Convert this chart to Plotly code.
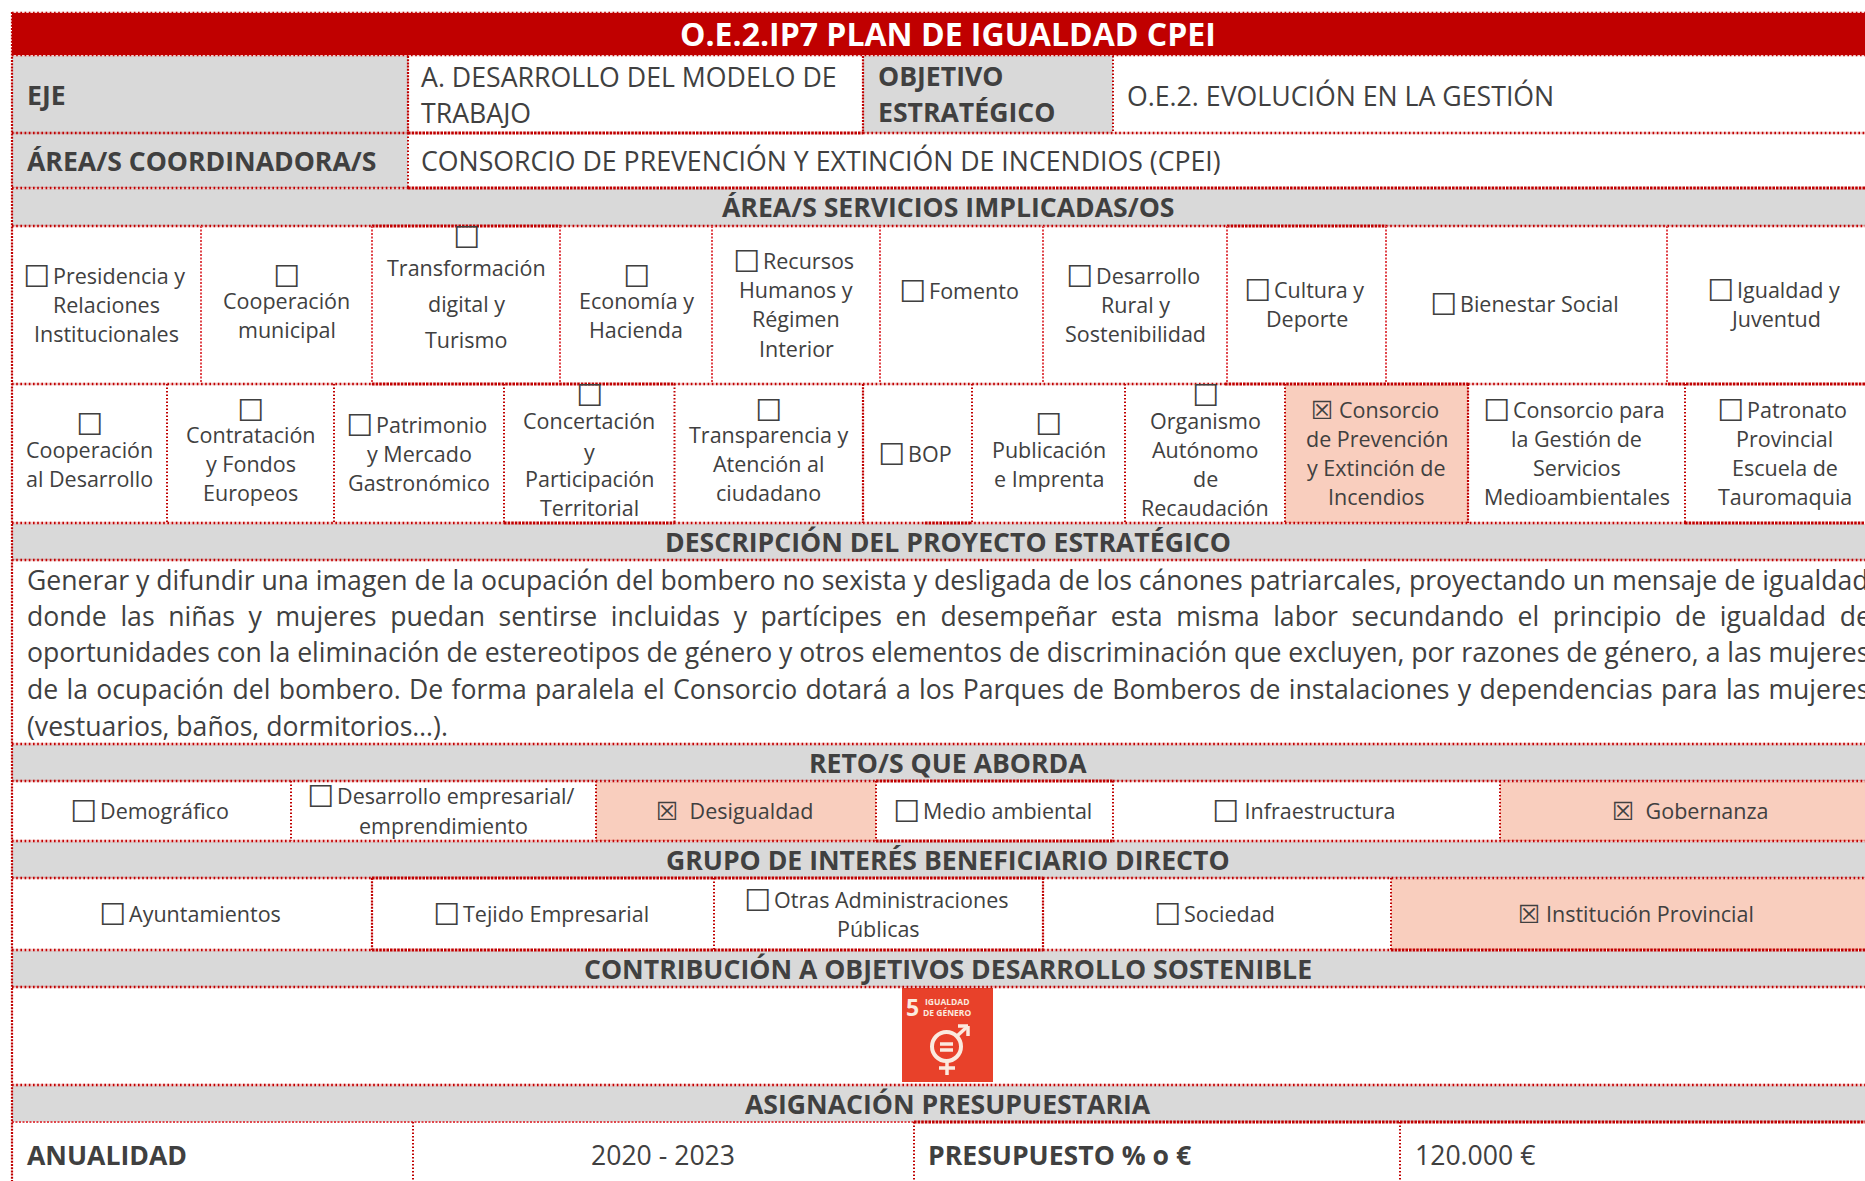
import plotly.graph_objects as go

W, H = 1865, 1181
RIGHT = 1884
RED = "#C00000"; GREY = "#D9D9D9"; PINK = "#F9CEBE"; INK = "#404040"; SDG = "#E8412A"; CREAM = "#FBEADF"

TITLE = "O.E.2.IP7 PLAN DE IGUALDAD CPEI"
HEADERS = ["ÁREA/S SERVICIOS IMPLICADAS/OS", "DESCRIPCIÓN DEL PROYECTO ESTRATÉGICO", "RETO/S QUE ABORDA",
           "GRUPO DE INTERÉS BENEFICIARIO DIRECTO", "CONTRIBUCIÓN A OBJETIVOS DESARROLLO SOSTENIBLE", "ASIGNACIÓN PRESUPUESTARIA"]
HEADER_Y = [207, 542, 763, 860, 969, 1104]

SERV1 = [["☐Presidencia y", "Relaciones", "Institucionales"], ["☐", "Cooperación", "municipal"],
         ["☐", "Transformación", "digital y", "Turismo"], ["☐", "Economía y", "Hacienda"],
         ["☐Recursos", "Humanos y", "Régimen", "Interior"], ["☐Fomento"],
         ["☐Desarrollo", "Rural y", "Sostenibilidad"], ["☐Cultura y", "Deporte"],
         ["☐Bienestar Social"], ["☐Igualdad y", "Juventud"]]
SERV1_Y = [[277, 306, 335], [276, 302, 331], [237, 269, 305, 341], [276, 302, 331], [262, 291, 320, 350], [292],
           [277, 306, 335], [291, 320], [305], [291, 320]]
SERV1_X = [12, 201, 372, 560, 712, 880, 1043, 1227, 1386, 1667, RIGHT]

SERV2 = [["☐", "Cooperación", "al Desarrollo"], ["☐", "Contratación", "y Fondos", "Europeos"],
         ["☐Patrimonio", "y Mercado", "Gastronómico"], ["☐", "Concertación", "y", "Participación", "Territorial"],
         ["☐", "Transparencia y", "Atención al", "ciudadano"], ["☐BOP"], ["☐", "Publicación", "e Imprenta"],
         ["☐", "Organismo", "Autónomo", "de", "Recaudación"], ["☒ Consorcio", "de Prevención", "y Extinción de", "Incendios"],
         ["☐Consorcio para", "la Gestión de", "Servicios", "Medioambientales"],
         ["☐Patronato", "Provincial", "Escuela de", "Tauromaquia"]]
SERV2_Y = [[424, 451, 480], [410, 436, 465, 494], [426, 455, 484], [395, 422, 453, 480, 509], [410, 436, 465, 494], [455],
           [424, 451, 480], [395, 422, 451, 480, 509], [411, 440, 469, 498], [411, 440, 469, 498], [411, 440, 469, 498]]
SERV2_X = [12, 167, 334, 504, 674.5, 863, 972, 1125, 1285, 1468, 1685, RIGHT]

RETOS = [["☐Demográfico"], ["☐Desarrollo empresarial/", "emprendimiento"], ["☒\u00a0\u00a0Desigualdad"], ["☐Medio ambiental"],
         ["☐\u00a0Infraestructura"], ["☒\u00a0\u00a0Gobernanza"]]
RETOS_Y = [[812], [797, 827], [812], [812], [812], [812]]
RETOS_X = [12, 291, 596, 876, 1113, 1500, RIGHT]

GRUPOS = [["☐Ayuntamientos"], ["☐Tejido Empresarial"], ["☐Otras Administraciones", "Públicas"], ["☐Sociedad"], ["☒ Institución Provincial"]]
GRUPOS_Y = [[915], [915], [901, 930], [915], [915]]
GRUPOS_X = [12, 372, 714, 1043, 1391, RIGHT]

DESCRIPTION = ["Generar y difundir una imagen de la ocupación del bombero no sexista y desligada de los cánones patriarcales, proyectando un mensaje de igualdad",
               "donde las niñas y mujeres puedan sentirse incluidas y partícipes en desempeñar esta misma labor secundando el principio de igualdad de",
               "oportunidades con la eliminación de estereotipos de género y otros elementos de discriminación que excluyen, por razones de género, a las mujeres",
               "de la ocupación del bombero. De forma paralela el Consorcio dotará a los Parques de Bomberos de instalaciones y dependencias para las mujeres",
               "(vestuarios, baños, dormitorios…)."]
DESC_Y = [580, 616, 652, 689, 726]
DESC_WORD_SPACING = [0, 6.7, 0, 1.4, 0]

BODY_SIZE = 26.7; DESC_SIZE = 26.6; HEAD_SIZE = 26.6; LABEL_SIZE = 21.5

shapes, annos = [], []

def rect(x0, y0, x1, y1, fill):
    shapes.append(dict(type="rect", xref="x", yref="y", x0=x0, y0=y0, x1=x1, y1=y1, fillcolor=fill,
                       line=dict(color=fill, width=0), layer="below"))

def seg(x0, y0, x1, y1, kind="n"):
    vertical = x0 == x1
    if vertical:
        style = {"n": (RED, 2, "1.5px,2px"), "d": (RED, 2.2, "2px,1.2px"), "p": ("#E0474C", 2, "2px,1.5px")}[kind]
    else:
        style = {"n": (RED, 2.6, "1.6px,2.6px"), "d": (RED, 2.8, "2.6px,1px"), "p": ("#E0474C", 2.2, "2px,1.5px")}[kind]
    shapes.append(dict(type="line", xref="x", yref="y", x0=x0, y0=y0, x1=x1, y1=y1,
                       line=dict(color=style[0], width=style[1], dash=style[2]), layer="above"))
    if kind == "n" and not vertical:
        shapes.append(dict(type="line", xref="x", yref="y", x0=x0, y0=y0, x1=x1, y1=y1, opacity=0.2,
                           line=dict(color=RED, width=style[1]), layer="above"))

def text(x, y, s, size=BODY_SIZE, bold=False, color=INK, anchor="center", extra=""):
    has_text_after = len(s) > 1 and s[1] not in "\u00a0 "
    gap = '<span style="font-size:12px">\u00a0</span>' if has_text_after else ""
    s = s.replace("☐", '<span style="font-family:DejaVu Sans;font-size:30px;baseline-shift:-3px">☐</span>' + gap)
    s = s.replace("☒", '<span style="font-family:DejaVu Sans;font-size:25px;baseline-shift:-1px">☒</span>')
    if extra:
        s = f'<span style="{extra}">{s}</span>'
    annos.append(dict(xref="x", yref="y", x=x, y=y, text=s, showarrow=False, xanchor=anchor, yanchor="middle",
                      align=anchor, font=dict(family="Open Sans", size=size, color=color, weight=700 if bold else 400)))

# fills
rect(12, 13, RIGHT, 55, RED)
rect(12, 56, 408, 188, GREY)
rect(863, 56, 1113, 133, GREY)
for y0, y1 in [(189, 226), (524, 560), (745, 781), (842, 878), (951, 987), (1086, 1122)]:
    rect(12, y0, RIGHT, y1, GREY)
rect(1285, 385, 1468, 523, PINK)
rect(596, 782, 876, 841, PINK)
rect(1500, 782, RIGHT, 841, PINK)
rect(1391, 879, RIGHT, 950, PINK)

# horizontal rules
HRULES = [(13, [(12, RIGHT, "n")]), (55, [(12, RIGHT, "n")]),
          (133, [(12, 408, "n"), (408, 863, "d"), (863, RIGHT, "n")]),
          (188, [(12, 408, "n"), (408, RIGHT, "d")]),
          (226, [(12, 372, "n"), (372, 560, "d"), (560, 1227, "n"), (1227, 1386, "d"), (1386, RIGHT, "n")]),
          (384, [(12, 372, "n"), (372, 674, "d"), (674, 1225, "n"), (1225, 1468, "d"), (1468, 1668, "n"), (1668, RIGHT, "d")]),
          (523, [(12, 504, "n"), (504, 674, "d"), (674, 925, "n"), (925, 970, "d"), (970, 1685, "n"), (1685, RIGHT, "d")]),
          (560, [(12, RIGHT, "n")]), (744, [(12, RIGHT, "n")]),
          (781, [(12, 876, "n"), (876, 1113, "d"), (1113, RIGHT, "n")]),
          (841, [(12, 876, "n"), (876, 1113, "d"), (1113, RIGHT, "n")]),
          (878, [(12, 372, "n"), (372, 1043, "d"), (1043, RIGHT, "n")]),
          (950, [(12, 372, "n"), (372, 1043, "d"), (1043, 1391, "n"), (1391, RIGHT, "d")]),
          (987, [(12, RIGHT, "n")]), (1085, [(12, RIGHT, "n")]),
          (1122, [(12, 914, "p"), (914, RIGHT, "d")])]
for y, parts in HRULES:
    for x0, x1, k in parts:
        seg(x0, y, x1, y, k)

# vertical rules
seg(12, 12, 12, 1181, "d")
VRULES = [(408, 56, 133, "d"), (408, 133, 188, "n"), (863, 56, 133, "d"), (1113, 56, 133, "n"),
          (372, 226, 383, "p"), (560, 226, 383, "p")]
for x in [201, 712, 880, 1043, 1227, 1386, 1667]:
    VRULES.append((x, 226, 383, "p"))
for x in [167, 334, 504, 674.5, 972, 1125, 1285, 1685]:
    VRULES.append((x, 384, 523, "n"))
for x in [863, 1468]:
    VRULES.append((x, 384, 523, "d"))
for x in [291, 596, 876, 1113, 1500]:
    VRULES.append((x, 781, 841, "n"))
for x in [714, 1391]:
    VRULES.append((x, 878, 950, "n"))
for x in [372, 1043]:
    VRULES.append((x, 878, 950, "d"))
for x in [413, 914, 1400]:
    VRULES.append((x, 1122, 1181, "n"))
for x, y0, y1, k in VRULES:
    seg(x, y0, x, y1, k)

# fixed texts
text(948, 33, TITLE, size=32, bold=True, color="#FFFFFF")
for s, y in zip(HEADERS, HEADER_Y):
    text(948, y, s, size=HEAD_SIZE, bold=True)
LEFT = 24.5
text(LEFT, 95, "EJE", size=HEAD_SIZE, bold=True, anchor="left")
text(LEFT, 161, "ÁREA/S COORDINADORA/S", size=HEAD_SIZE, bold=True, anchor="left")
text(419, 76, "A. DESARROLLO DEL MODELO DE", anchor="left")
text(419, 112, "TRABAJO", anchor="left")
text(876, 76, "OBJETIVO", size=HEAD_SIZE, bold=True, anchor="left")
text(876, 112, "ESTRATÉGICO", size=HEAD_SIZE, bold=True, anchor="left")
text(1125, 95, "O.E.2. EVOLUCIÓN EN LA GESTIÓN", anchor="left")
text(419, 160, "CONSORCIO DE PREVENCIÓN Y EXTINCIÓN DE INCENDIOS (CPEI)", anchor="left")
text(LEFT, 1155, "ANUALIDAD", size=HEAD_SIZE, bold=True, anchor="left")
text(663, 1155, "2020 - 2023", size=HEAD_SIZE)
text(926, 1155, "PRESUPUESTO % o €", size=HEAD_SIZE, bold=True, anchor="left")
text(1413, 1155, "120.000 €", size=HEAD_SIZE, anchor="left")

for line, y, ws in zip(DESCRIPTION, DESC_Y, DESC_WORD_SPACING):
    text(LEFT, y, line, size=DESC_SIZE, anchor="left", extra=f"word-spacing:{ws}px" if ws else "")

for labels, ys, xs in [(SERV1, SERV1_Y, SERV1_X), (SERV2, SERV2_Y, SERV2_X), (RETOS, RETOS_Y, RETOS_X), (GRUPOS, GRUPOS_Y, GRUPOS_X)]:
    for i, (lines, yy) in enumerate(zip(labels, ys)):
        cx = (xs[i] + xs[i + 1]) / 2
        for s, y in zip(lines, yy):
            if s == "☐":
                text(cx, y, s, size=LABEL_SIZE)
            elif s[0] == "☐":
                text(cx - 2.2, y - 1, s, size=LABEL_SIZE)
            elif s[0] == "☒":
                text(cx - 1.2, y - 1, s, size=LABEL_SIZE)
            else:
                text(cx, y - 2, s, size=LABEL_SIZE)

# SDG 5 tile
rect(902, 988, 993, 1082, SDG)
text(912, 1007, "5", size=23, bold=True, color=CREAM)
text(947, 1001, "IGUALDAD", size=8.5, bold=True, color=CREAM)
text(947, 1012, "DE GÉNERO", size=8.5, bold=True, color=CREAM)
icon = dict(xref="x", yref="y", layer="above")
shapes.append(dict(type="circle", x0=932, y0=1032, x1=961, y1=1061, line=dict(color=CREAM, width=4), **icon))
for x0, y0, x1, y1 in [(947, 1061, 947, 1075), (939, 1068, 955, 1068), (957, 1036, 968, 1026), (958, 1026, 968, 1026),
                       (968, 1026, 968, 1036), (940, 1044, 953, 1044), (940, 1050, 953, 1050)]:
    shapes.append(dict(type="line", x0=x0, y0=y0, x1=x1, y1=y1, line=dict(color=CREAM, width=3.5), **icon))

fig = go.Figure()
fig.update_layout(width=W, height=H, margin=dict(l=0, r=0, t=0, b=0), paper_bgcolor="#FFFFFF", plot_bgcolor="#FFFFFF",
                  autosize=False, showlegend=False, shapes=shapes, annotations=annos,
                  xaxis=dict(range=[0, W], visible=False, fixedrange=True),
                  yaxis=dict(range=[H, 0], visible=False, fixedrange=True))
fig.write_html("out.html", config={"displayModeBar": False},
               post_script="document.body.style.margin='0';document.body.style.overflow='hidden';")
